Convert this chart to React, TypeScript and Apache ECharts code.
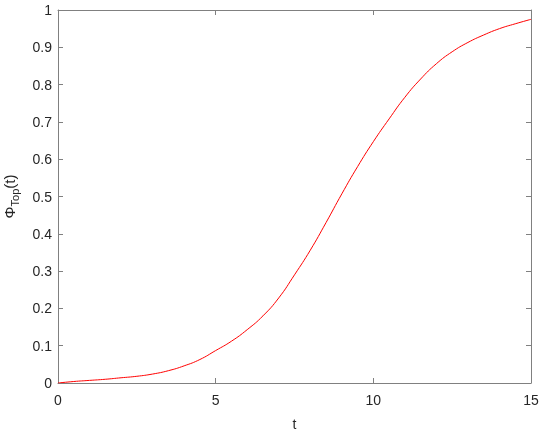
import React, { useEffect, useRef } from "react";
import * as echarts from "echarts";

const tValues = [0, 0.5, 1, 1.5, 2, 2.5, 3, 3.5, 4, 4.5, 5, 5.5, 6, 6.5, 7, 7.5, 8, 8.5, 9, 9.5, 10, 10.5, 11, 11.5, 12, 12.5, 13, 13.5, 14, 14.5, 15];
const phiValues = [0, 0.004, 0.007, 0.01, 0.014, 0.018, 0.024, 0.033, 0.046, 0.063, 0.087, 0.112, 0.143, 0.18, 0.228, 0.29, 0.356, 0.43, 0.507, 0.58, 0.647, 0.708, 0.766, 0.815, 0.856, 0.888, 0.913, 0.933, 0.95, 0.963, 0.975];
const xTicks = { min: 0, max: 15, interval: 5 };
const yTicks = { min: 0, max: 1, interval: 0.1 };

export default function App() {
  const ref = useRef<HTMLDivElement>(null);
  useEffect(() => {
    if (!ref.current) return;
    const chart = echarts.init(ref.current, null, { renderer: "svg" });
    const axisColor = "#808080";
    const textColor = "#262626";
    const font = "Liberation Sans, Arial, sans-serif";
    const data = tValues.map((t, i) => [t, phiValues[i]]);
    const line: any = { show: true, onZero: false, lineStyle: { color: axisColor, width: 1 } };
    const tick: any = { show: true, inside: true, length: 5, lineStyle: { color: axisColor } };
    chart.setOption({
      animation: false,
      grid: { left: 58, top: 10, right: 19, bottom: 54, containLabel: false, outerBoundsMode: "none" },
      xAxis: [
        {
          type: "value",
          min: xTicks.min,
          max: xTicks.max,
          interval: xTicks.interval,
          position: "bottom",
          name: "t",
          nameLocation: "middle",
          nameGap: 34,
          nameTextStyle: { color: textColor, fontSize: 14, fontFamily: font },
          axisLine: line,
          axisTick: tick,
          axisLabel: { color: textColor, fontSize: 14, fontFamily: font, margin: 10 },
          splitLine: { show: false },
        },
        {
          type: "value",
          min: xTicks.min,
          max: xTicks.max,
          interval: xTicks.interval,
          position: "top",
          axisLine: line,
          axisTick: tick,
          axisLabel: { show: false },
          splitLine: { show: false },
        },
      ],
      yAxis: [
        {
          type: "value",
          min: yTicks.min,
          max: yTicks.max,
          interval: yTicks.interval,
          position: "left",
          name: "{a|Φ}{sub|Top}{a|(t)}",
          nameLocation: "middle",
          nameRotate: 90,
          nameGap: 38,
          nameTextStyle: {
            color: textColor,
            fontSize: 14,
            fontFamily: font,
            rich: {
              a: { color: textColor, fontSize: 15, fontFamily: font, lineHeight: 18, verticalAlign: "top" },
              sub: { color: textColor, fontSize: 11, fontFamily: font, lineHeight: 18, verticalAlign: "bottom" },
            },
          },
          axisLine: line,
          axisTick: tick,
          axisLabel: { color: textColor, fontSize: 14, fontFamily: font, margin: 6 },
          splitLine: { show: false },
        },
        {
          type: "value",
          min: yTicks.min,
          max: yTicks.max,
          interval: yTicks.interval,
          position: "right",
          axisLine: line,
          axisTick: tick,
          axisLabel: { show: false },
          splitLine: { show: false },
        },
      ],
      series: [
        {
          type: "line",
          data,
          xAxisIndex: 0,
          yAxisIndex: 0,
          smooth: 0.5,
          symbol: "none",
          lineStyle: { color: "#ff0000", width: 1 },
        },
        {
          type: "line",
          data,
          xAxisIndex: 1,
          yAxisIndex: 1,
          symbol: "none",
          silent: true,
          lineStyle: { opacity: 0 },
        },
      ],
    });
    return () => chart.dispose();
  }, []);
  return <div ref={ref} style={{ position: "fixed", left: 0, top: 0, width: 550, height: 437 }} />;
}
